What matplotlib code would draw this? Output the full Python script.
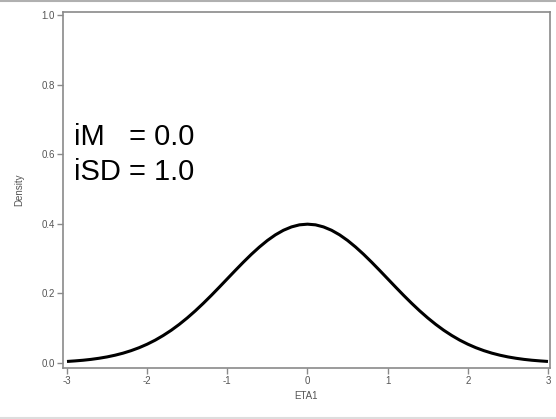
import matplotlib
matplotlib.use("Agg")
import matplotlib.pyplot as plt
from matplotlib.lines import Line2D

# density curve
eta = [-3.0, -2.9, -2.8, -2.7, -2.6, -2.5, -2.4, -2.3, -2.2, -2.1, -2.0,
       -1.9, -1.8, -1.7, -1.6, -1.5, -1.4, -1.3, -1.2, -1.1, -1.0,
       -0.9, -0.8, -0.7, -0.6, -0.5, -0.4, -0.3, -0.2, -0.1, 0.0,
       0.1, 0.2, 0.3, 0.4, 0.5, 0.6, 0.7, 0.8, 0.9, 1.0,
       1.1, 1.2, 1.3, 1.4, 1.5, 1.6, 1.7, 1.8, 1.9, 2.0,
       2.1, 2.2, 2.3, 2.4, 2.5, 2.6, 2.7, 2.8, 2.9, 3.0]
density = [0.0044, 0.0060, 0.0079, 0.0104, 0.0136, 0.0175, 0.0224, 0.0283, 0.0355, 0.0440, 0.0540,
           0.0656, 0.0790, 0.0940, 0.1109, 0.1295, 0.1497, 0.1714, 0.1942, 0.2179, 0.2420,
           0.2661, 0.2897, 0.3123, 0.3332, 0.3521, 0.3683, 0.3814, 0.3910, 0.3970, 0.3989,
           0.3970, 0.3910, 0.3814, 0.3683, 0.3521, 0.3332, 0.3123, 0.2897, 0.2661, 0.2420,
           0.2179, 0.1942, 0.1714, 0.1497, 0.1295, 0.1109, 0.0940, 0.0790, 0.0656, 0.0540,
           0.0440, 0.0355, 0.0283, 0.0224, 0.0175, 0.0136, 0.0104, 0.0079, 0.0060, 0.0044]
xticks = [-3, -2, -1, 0, 1, 2, 3]
yticks = [0.0, 0.2, 0.4, 0.6, 0.8, 1.0]

plt.rcParams['font.family'] = ['Liberation Sans', 'DejaVu Sans']

fig = plt.figure(figsize=(5.56, 4.19), dpi=100)
ax = fig.add_axes([0.1133, 0.1217, 0.8759, 0.8497])

ax.plot(eta, density, color='black', linewidth=2.2, solid_capstyle='butt',
        solid_joinstyle='round')

ax.set_xlim(-3.05, 3.025)
ax.set_ylim(-0.0144, 1.0086)
ax.set_xticks(xticks)
ax.set_xticklabels([str(t) for t in xticks])
ax.set_yticks(yticks)
ax.set_yticklabels([f"{t:.1f}" for t in yticks])

grey = '#8a8a8a'
for s in ax.spines.values():
    s.set_color(grey)
    s.set_linewidth(1.2)
ax.tick_params(direction='out', length=4, width=1, color=grey,
               labelsize=7, labelcolor='#555555', pad=2)

ax.set_xlabel("ETA1", fontsize=7, color='#555555', labelpad=3)
ax.set_ylabel("Density", fontsize=7, color='#555555', labelpad=12)

ax.text(0.022, 0.649, "iM   = 0.0", transform=ax.transAxes, fontsize=21,
        ha='left', va='center', color='black')
ax.text(0.022, 0.551, "iSD = 1.0", transform=ax.transAxes, fontsize=21,
        ha='left', va='center', color='black')

# thin grey rules at top and bottom of the figure
fig.add_artist(Line2D([0, 1], [0.9975, 0.9975], color='#b0b0b0', linewidth=1.5,
                      transform=fig.transFigure))
fig.add_artist(Line2D([0, 1], [0.003, 0.003], color='#dddddd', linewidth=1.5,
                      transform=fig.transFigure))

fig.savefig("out.png", dpi=100)
